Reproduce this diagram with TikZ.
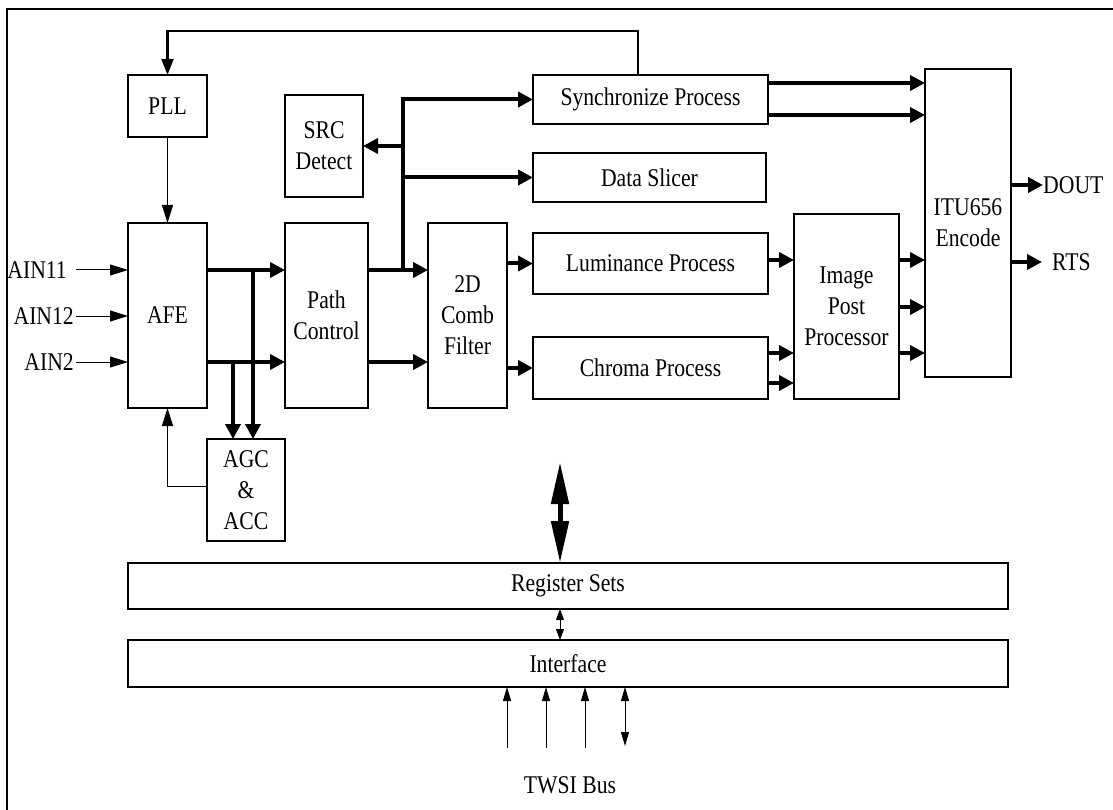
\documentclass[tikz,border=0pt]{standalone}
\usepackage{fontspec}
\setmainfont[FakeStretch=0.85]{Liberation Serif}
\usetikzlibrary{arrows.meta}
\tikzset{
  blk/.style={draw, line width=1.3pt, inner sep=0pt, outer sep=0pt, align=center,
    font=\fontsize{25.5}{31}\selectfont},
  lbl/.style={inner sep=0pt, font=\fontsize{25.5}{31}\selectfont},
  thinarr/.style={line width=1pt, -{Triangle[length=18pt,width=11pt]}},
  medarr/.style={line width=2.3pt, -{Triangle[length=16pt,width=12pt]}},
  fatarr/.style={line width=4pt, -{Triangle[length=15pt,width=15pt]}},
  busarr/.style={line width=1pt, -{Triangle[length=14pt,width=8pt]}},
  busdbl/.style={line width=1pt, {Triangle[length=14pt,width=8pt]}-{Triangle[length=14pt,width=8pt]}},
  smalldbl/.style={line width=1pt, {Triangle[length=11pt,width=8pt]}-{Triangle[length=11pt,width=8pt]}},
  bigdbl/.style={line width=5pt, {Triangle[length=42pt,width=17pt]}-{Triangle[length=42pt,width=17pt]}},
  frame/.style={line width=2.2pt}
}
\begin{document}
\begin{tikzpicture}[x=1pt,y=-1pt]
\useasboundingbox (0,0) rectangle (1113,810);
% frame
\draw[frame] (7,830) -- (7,9) -- (1120,9);

% blocks
\node[blk, minimum width=79pt, minimum height=62pt] (pll) at (167.5,106) {PLL};
\node[blk, minimum width=78pt, minimum height=102pt] (src) at (324,146) {SRC\\Detect};
\node[blk, minimum width=79pt, minimum height=185pt] (afe) at (167.5,315.5) {AFE};
\node[blk, minimum width=83pt, minimum height=185pt] (path) at (326.5,315.5) {Path\\Control};
\node[blk, minimum width=78pt, minimum height=102pt] (agc) at (246,490) {AGC\\\&\\ACC};
\node[blk, minimum width=79pt, minimum height=185pt] (comb) at (467.5,315.5) {2D\\Comb\\Filter};
\node[blk, minimum width=235pt, minimum height=49pt] (sync) at (650.5,99.5) {Synchronize Process};
\node[blk, minimum width=233pt, minimum height=49pt] (slicer) at (649.5,177.5) {Data Slicer};
\node[blk, minimum width=235pt, minimum height=61pt] (lum) at (650.5,263.5) {Luminance Process};
\node[blk, minimum width=235pt, minimum height=62pt] (chroma) at (650.5,368) {Chroma Process};
\node[blk, minimum width=105pt, minimum height=185pt] (ipp) at (846.5,306.5) {Image\\Post\\Processor};
\node[blk, minimum width=86pt, minimum height=308pt] (itu) at (968,223) {ITU656\\Encode};
\node[blk, minimum width=880pt, minimum height=46pt] (reg) at (568,586) {Register Sets};
\node[blk, minimum width=880pt, minimum height=47pt] (intf) at (568,663.5) {Interface};

% labels
\node[lbl, anchor=east] (ain11) at (67,270) {AIN11};
\node[lbl, anchor=east] (ain12) at (74,316) {AIN12};
\node[lbl, anchor=east] (ain2) at (74,362) {AIN2};
\node[lbl, anchor=west] (dout) at (1043,185) {DOUT};
\node[lbl, anchor=west] (rts) at (1052,262) {RTS};
\node[lbl] (twsi) at (570,785) {TWSI Bus};

% helper coordinates
\coordinate (a11) at (76,270);
\coordinate (a12) at (76,316);
\coordinate (a2) at (76,362);
\coordinate (fb) at (638,75);
\coordinate (busb) at (403,270);
\coordinate (w1) at (507,748);
\coordinate (w2) at (546,748);
\coordinate (w3) at (585,748);
\coordinate (w4) at (625,746);
\coordinate (cpu) at (560,462);

% PLL loop
\draw[medarr] (fb) -- (638,31) -| (pll.north);
\draw[thinarr] (pll.south) -- (afe.north);

% inputs
\draw[thinarr] (a11) -- (afe.west |- a11);
\draw[thinarr] (a12) -- (afe.west |- a12);
\draw[thinarr] (a2) -- (afe.west |- a2);

% AFE to path control and AGC
\draw[fatarr] (afe.east |- a11) -- (path.west |- a11);
\draw[fatarr] (afe.east |- a2) -- (path.west |- a2);
\draw[fatarr] (253,270) -- (agc.north -| 253,0);
\draw[fatarr] (233,362) -- (agc.north -| 233,0);
\draw[thinarr] (agc.west |- 0,486) -| (afe.south);

% path control to comb + bus
\draw[fatarr] (path.east |- a11) -- (comb.west |- a11);
\draw[fatarr] (path.east |- a2) -- (comb.west |- a2);
\draw[fatarr] (busb) |- (sync.west);
\draw[fatarr] (403,146) -- (src.east);
\draw[fatarr] (403,177.5) -- (slicer.west);

% comb to lum/chroma
\draw[fatarr] (comb.east |- lum.west) -- (lum.west);
\draw[fatarr] (comb.east |- chroma.west) -- (chroma.west);

% sync to ITU
\draw[fatarr] (sync.east |- 0,83) -- (itu.west |- 0,83);
\draw[fatarr] (sync.east |- 0,115) -- (itu.west |- 0,115);

% lum/chroma to IPP
\draw[fatarr] (lum.east |- 0,260) -- (ipp.west |- 0,260);
\draw[fatarr] (chroma.east |- 0,353) -- (ipp.west |- 0,353);
\draw[fatarr] (chroma.east |- 0,383) -- (ipp.west |- 0,383);

% IPP to ITU
\draw[fatarr] (ipp.east |- 0,260) -- (itu.west |- 0,260);
\draw[fatarr] (ipp.east |- 0,307) -- (itu.west |- 0,307);
\draw[fatarr] (ipp.east |- 0,353) -- (itu.west |- 0,353);

% outputs
\draw[fatarr] (itu.east |- dout.west) -- (dout.west);
\draw[fatarr] (itu.east |- rts.west) -- ([xshift=-10pt]rts.west);

% register / interface
\draw[bigdbl] (cpu) -- (reg.north -| cpu);
\draw[smalldbl] (reg.south -| cpu) -- (intf.north -| cpu);

% TWSI
\draw[busarr] (w1) -- (intf.south -| w1);
\draw[busarr] (w2) -- (intf.south -| w2);
\draw[busarr] (w3) -- (intf.south -| w3);
\draw[busdbl] (w4) -- (intf.south -| w4);
\end{tikzpicture}
\end{document}
